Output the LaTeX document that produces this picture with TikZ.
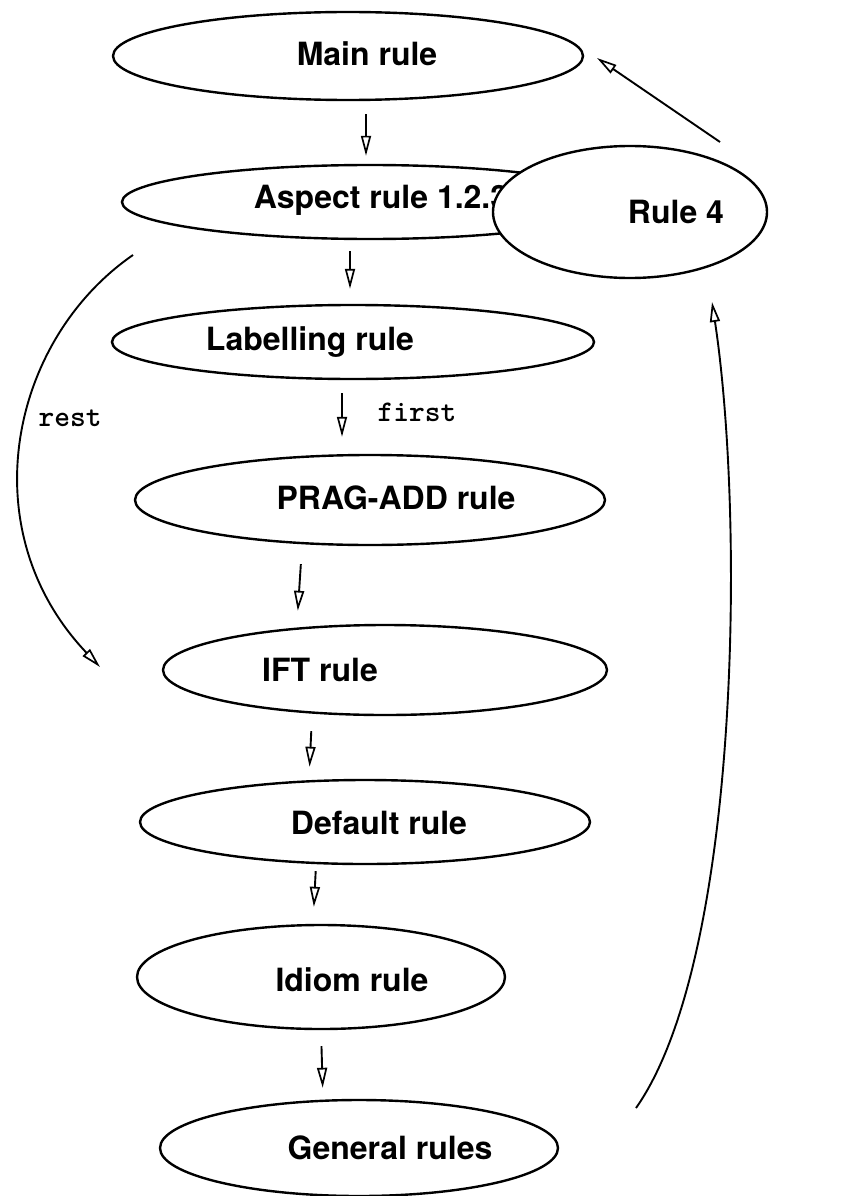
\documentclass[tikz,border=0pt]{standalone}
\usepackage{fontspec}
\setmainfont{TeX Gyre Heros}
\usetikzlibrary{shapes.geometric,arrows.meta}
\begin{document}
\begin{tikzpicture}[x=1pt,y=-1pt,
  rule/.style={draw, ellipse, line width=2.4pt, inner sep=0pt, fill=white},
  lbl/.style={font=\fontsize{32}{38}\selectfont\bfseries, inner sep=0pt},
  mono/.style={font=\fontsize{30}{34}\selectfont\ttfamily\bfseries, inner sep=0pt},
  arr/.style={line width=1.9pt, -{Triangle[open,length=20pt,width=10pt,line width=1.7pt]}}]
\useasboundingbox (0,0) rectangle (847,1196);
% ellipses
\node[rule, minimum width=470pt, minimum height=88pt] (main) at (348,56) {};
\node[lbl] (mainT) at (367,54) {Main rule};
\node[rule, minimum width=496pt, minimum height=74pt] (aspect) at (370,202) {};
\node[lbl] (aspectT) at (381,200) {Aspect rule 1.2.3};
\node[rule, minimum width=274pt, minimum height=132pt] (rule4) at (630,212) {};
\node[lbl] (rule4T) at (676,212) {Rule 4};
\node[rule, minimum width=482pt, minimum height=74pt] (label) at (353,342) {};
\node[lbl] (labelT) at (310,342) {Labelling rule};
\node[rule, minimum width=470pt, minimum height=90pt] (prag) at (370,500) {};
\node[lbl] (pragT) at (396,498) {PRAG-ADD rule};
\node[rule, minimum width=444pt, minimum height=90pt] (ift) at (385,670) {};
\node[lbl] (iftT) at (320,670) {IFT rule};
\node[rule, minimum width=450pt, minimum height=84pt] (default) at (365,822) {};
\node[lbl] (defaultT) at (379,823) {Default rule};
\node[rule, minimum width=368pt, minimum height=104pt] (idiom) at (321,977) {};
\node[lbl] (idiomT) at (352,980) {Idiom rule};
\node[rule, minimum width=398pt, minimum height=96pt] (general) at (359,1148) {};
\node[lbl] (generalT) at (390,1148) {General rules};
% edge labels
\node[mono] (rest) at (70,418) {rest};
\node[mono] (first) at (417,412) {first};
% vertical chain
\draw[arr, shorten <=13pt, shorten >=8pt] ([xshift=18pt]main.south) -- ([xshift=-4pt]aspect.north);
\draw[arr, shorten <=11pt, shorten >=15pt] ([xshift=-20pt]aspect.south) -- ([xshift=-3pt]label.north);
\draw[arr, shorten <=13pt, shorten >=17pt] ([xshift=-11pt]label.south) -- ([xshift=-28pt]prag.north);
\draw[arr, shorten <=18pt, shorten >=13pt] ([xshift=-68pt]prag.south) -- ([xshift=-88pt]ift.north);
\draw[arr, shorten <=15pt, shorten >=12pt] ([xshift=-73pt]ift.south) -- ([xshift=-56pt]default.north);
\draw[arr, shorten <=6pt, shorten >=17pt] ([xshift=-49pt]default.south) -- ([xshift=-8pt]idiom.north);
\draw[arr, shorten <=16pt, shorten >=11pt] (idiom.south) -- ([xshift=-36pt]general.north);
% rest curve
\coordinate (restS) at (133,255);
\coordinate (restE) at (100,667);
\draw[arr] (restS) .. controls (10,340) and (-30,530) .. (restE);
% general -> rule 4
\coordinate (genS) at (636,1108);
\coordinate (r4in) at (712,302);
\draw[arr] (genS) .. controls (740,960) and (745,520) .. (r4in);
% rule 4 -> main
\coordinate (r4S) at (720,142);
\coordinate (mainIn) at (597,58);
\draw[arr] (r4S) -- (mainIn);
\end{tikzpicture}
\end{document}
